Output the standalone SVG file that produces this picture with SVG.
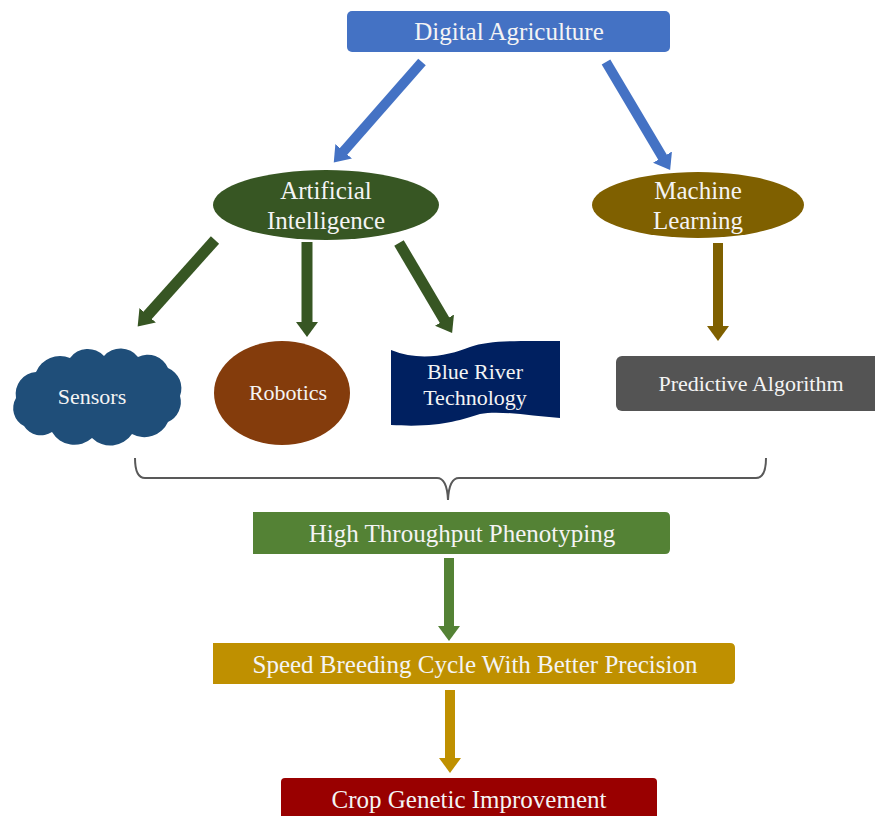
<svg xmlns="http://www.w3.org/2000/svg" width="875" height="816" viewBox="0 0 875 816">
<defs>
<style>
text{font-family:"Liberation Serif","Times New Roman",serif;fill:#f4f4f4;text-anchor:middle}
.big{font-size:25px}
.mid{font-size:25px}
.sm{font-size:22px}
.conn line{fill:none}
.blue{stroke:#4472C4;stroke-width:10}
.dg{stroke:#375623;stroke-width:11}
.br{stroke:#7F6000;stroke-width:10}
.gr{stroke:#548235;stroke-width:10}
.gd{stroke:#BF9000;stroke-width:10}
</style>
<marker id="mBlue" markerUnits="userSpaceOnUse" markerWidth="16" markerHeight="24" refX="1" refY="11" orient="auto"><path d="M0,0 L15,11 L0,22 Z" fill="#4472C4"/></marker>
<marker id="mDg" markerUnits="userSpaceOnUse" markerWidth="16" markerHeight="24" refX="1" refY="11" orient="auto"><path d="M0,0 L15,11 L0,22 Z" fill="#375623"/></marker>
<marker id="mBr" markerUnits="userSpaceOnUse" markerWidth="16" markerHeight="24" refX="1" refY="11" orient="auto"><path d="M0,0 L15,11 L0,22 Z" fill="#7F6000"/></marker>
<marker id="mGr" markerUnits="userSpaceOnUse" markerWidth="16" markerHeight="24" refX="1" refY="11" orient="auto"><path d="M0,0 L15,11 L0,22 Z" fill="#548235"/></marker>
<marker id="mGd" markerUnits="userSpaceOnUse" markerWidth="16" markerHeight="24" refX="1" refY="11" orient="auto"><path d="M0,0 L15,11 L0,22 Z" fill="#BF9000"/></marker>
</defs>

<g id="connectors" class="conn">
<line class="blue" x1="422" y1="62" x2="343" y2="152" marker-end="url(#mBlue)"/>
<line class="blue" x1="606" y1="62" x2="663" y2="158" marker-end="url(#mBlue)"/>
<line class="dg" x1="215" y1="240" x2="147" y2="316" marker-end="url(#mDg)"/>
<line class="dg" x1="307" y1="242" x2="307" y2="323" marker-end="url(#mDg)"/>
<line class="dg" x1="399" y1="243" x2="445" y2="321" marker-end="url(#mDg)"/>
<line class="br" x1="718" y1="243" x2="718" y2="327" marker-end="url(#mBr)"/>
<path d="M135,458 Q135,478 145,478 L437,478 Q447,478 448,500 Q449,478 459,478 L756,478 Q766,478 766,458" fill="none" stroke="#595959" stroke-width="2"/>
<line class="gr" x1="449" y1="558" x2="449" y2="627" marker-end="url(#mGr)"/>
<line class="gd" x1="450" y1="690" x2="450" y2="759" marker-end="url(#mGd)"/>
</g>

<g id="digital-agriculture">
<rect x="347" y="11" width="323" height="41" rx="5" fill="#4472C4"/>
<text class="big" x="509" y="40">Digital Agriculture</text>
</g>

<g id="artificial-intelligence">
<ellipse cx="326" cy="205" rx="113" ry="35" fill="#375623"/>
<text class="mid" x="326" y="199">Artificial</text>
<text class="mid" x="326" y="229">Intelligence</text>
</g>

<g id="machine-learning">
<ellipse cx="698" cy="205" rx="106" ry="33" fill="#7F6000"/>
<text class="mid" x="698" y="199">Machine</text>
<text class="mid" x="698" y="229">Learning</text>
</g>

<g id="sensors">
<path d="M24,426 A20,20 0 0 1 16,398 A22,22 0 0 1 36,372 A26,26 0 0 1 70,358 A22,22 0 0 1 104,356 A22,22 0 0 1 138,357 A22,22 0 0 1 168,368 A22,22 0 0 1 180,396 A22,22 0 0 1 168,422 A26,26 0 0 1 132,434 A26,26 0 0 1 92,438 A26,26 0 0 1 52,432 A20,20 0 0 1 24,426 Z" fill="#1F4E79"/>
<text class="sm" x="92" y="404">Sensors</text>
</g>

<g id="robotics">
<ellipse cx="282" cy="393" rx="68" ry="52" fill="#843C0C"/>
<text class="sm" x="288" y="400">Robotics</text>
</g>

<g id="blue-river-technology">
<path d="M391,350 C420,362 450,355 470,347 C490,340 520,341 560,341 L560,418 C530,416 500,410 480,414 C460,420 440,428 391,425 Z" fill="#002060"/>
<text class="sm" x="475" y="379">Blue River</text>
<text class="sm" x="475" y="405">Technology</text>
</g>

<g id="predictive-algorithm">
<rect x="616" y="356" width="270" height="55" rx="6" fill="#545454"/>
<text class="sm" x="751" y="391">Predictive Algorithm</text>
</g>

<g id="high-throughput-phenotyping">
<path d="M253,512 L665,512 Q670,512 670,517 L670,549 Q670,554 665,554 L253,554 Z" fill="#548235"/>
<text class="big" x="462" y="542">High Throughput Phenotyping</text>
</g>

<g id="speed-breeding">
<path d="M213,643 L730,643 Q735,643 735,648 L735,679 Q735,684 730,684 L213,684 Z" fill="#BF9000"/>
<text class="big" x="475" y="673">Speed Breeding Cycle With Better Precision</text>
</g>

<g id="crop-genetic-improvement">
<path d="M281,816 L281,782 Q281,778 285,778 L653,778 Q657,778 657,782 L657,816 Z" fill="#990000"/>
<text class="big" x="469" y="808">Crop Genetic Improvement</text>
</g>
</svg>
